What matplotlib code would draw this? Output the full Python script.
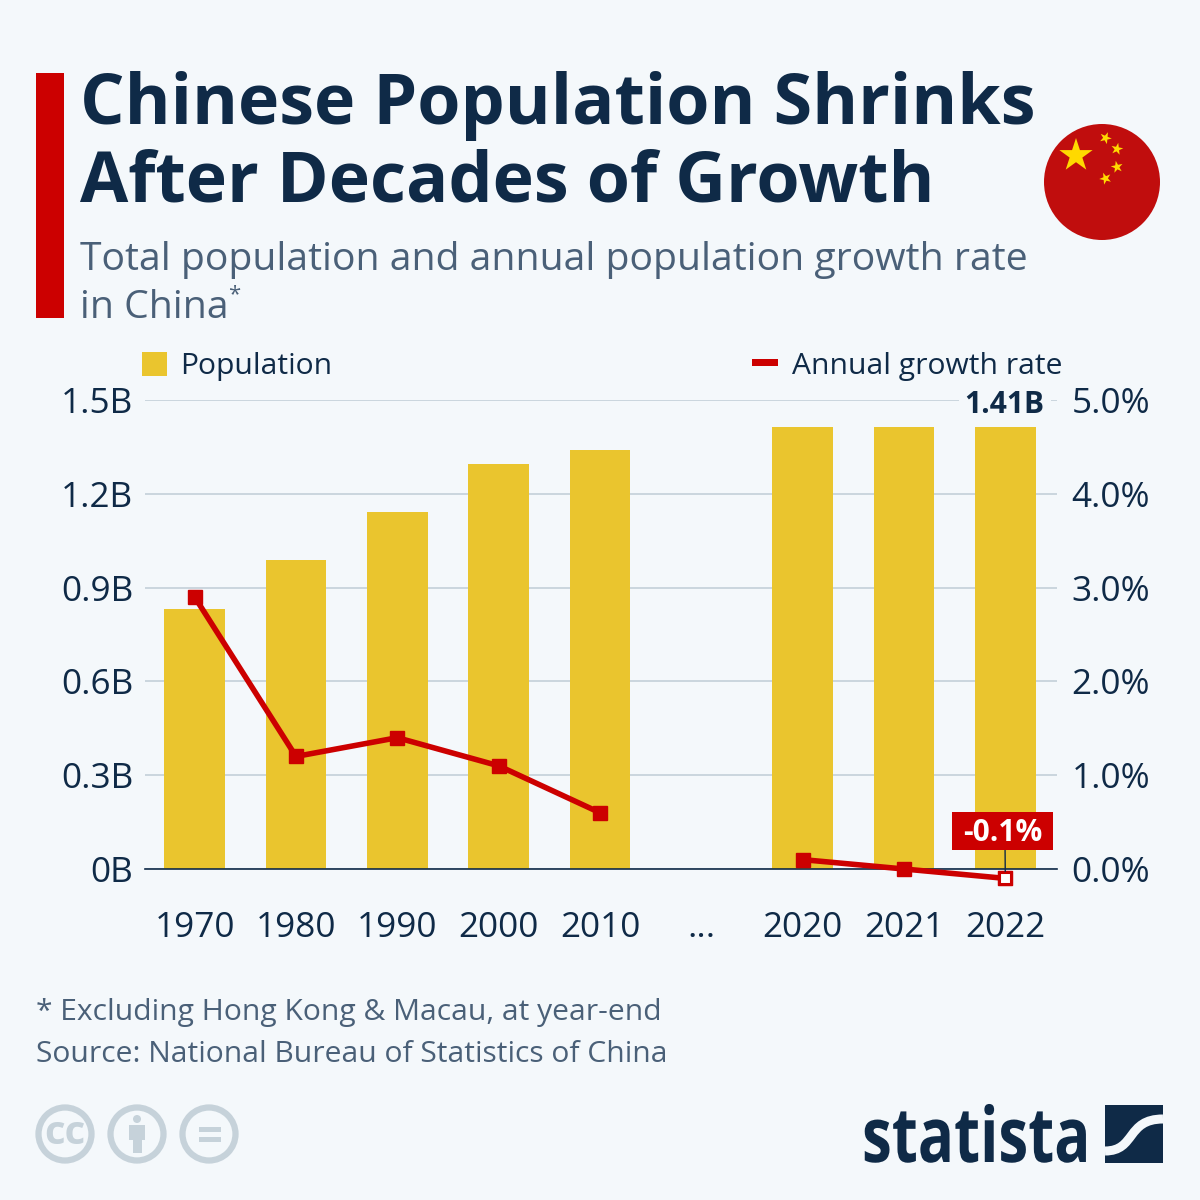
import numpy as np
import matplotlib
matplotlib.use("Agg")
import matplotlib.pyplot as plt
from matplotlib.patches import Rectangle, Circle, PathPatch, Polygon
from matplotlib.path import Path
from matplotlib.patheffects import AbstractPathEffect
from matplotlib.transforms import Affine2D

# Data
years = ["1970", "1980", "1990", "2000", "2010", "...", "2020", "2021", "2022"]
population = [0.83, 0.987, 1.143, 1.295, 1.34, np.nan, 1.413, 1.414, 1.413]
growth = [2.9, 1.2, 1.4, 1.1, 0.6, np.nan, 0.1, 0.0, -0.1]
pop_ticks = [0, 0.3, 0.6, 0.9, 1.2, 1.5]
pop_tick_labels = ["0B", "0.3B", "0.6B", "0.9B", "1.2B", "1.5B"]
growth_ticks = [0, 1, 2, 3, 4, 5]
growth_tick_labels = ["0.0%", "1.0%", "2.0%", "3.0%", "4.0%", "5.0%"]

BG = "#f4f8fb"
NAVY = "#0f2a47"
SLATE = "#4a6078"
RED = "#cc0000"
YELLOW = "#eac52e"
GRID = "#bfccd6"
ICON = "#c6d2da"

plt.rcParams["font.family"] = ["Open Sans", "DejaVu Sans"]


class Squeeze(AbstractPathEffect):
    # narrows a text horizontally, there is no condensed font installed for the logo
    def __init__(self, sx):
        super().__init__()
        self.sx = sx

    def draw_path(self, renderer, gc, tpath, affine, rgbFace=None):
        renderer.draw_path(gc, tpath, Affine2D().scale(self.sx, 1) + affine, rgbFace)


def star(cx, cy, r, rot=0.0):
    # five pointed star, y axis of the overlay points down
    angles = -np.pi / 2 + rot + np.arange(10) * np.pi / 5
    radii = np.where(np.arange(10) % 2 == 0, r, r * 0.382)
    return Polygon(np.column_stack([cx + radii * np.cos(angles), cy + radii * np.sin(angles)]),
                   color="#ffd900", lw=0)


def callout_box(x0, y0, w, h, mutation_size):
    # label box with its own padding: 11 px sideways, 38 px tall, sits 2 px above the text centre
    yc = y0 + h / 2 + 2
    return Path([(x0 - 11, yc - 19), (x0 + w + 11, yc - 19), (x0 + w + 11, yc + 19),
                 (x0 - 11, yc + 19), (x0 - 11, yc - 19)], closed=True)


fig = plt.figure(figsize=(12, 12), dpi=100, facecolor=BG)

# Overlay in pixel coordinates for title, legend, flag and logos
deco = fig.add_axes([0, 0, 1, 1], zorder=0)
deco.set_xlim(0, 1200)
deco.set_ylim(1200, 0)
deco.axis("off")

deco.add_patch(Rectangle((36, 73), 28, 245, color=RED, lw=0))
deco.text(80, 124, "Chinese Population Shrinks", fontsize=50.4, fontweight="bold", color=NAVY)
deco.text(80, 202, "After Decades of Growth", fontsize=50.4, fontweight="bold", color=NAVY)
deco.text(80, 270, "Total population and annual population growth rate", fontsize=28.2, color=SLATE)
deco.text(80, 318, "in China", fontsize=28.2, color=SLATE)
deco.text(228, 300, "*", fontsize=16, color=SLATE)

# Flag
deco.add_patch(Circle((1102, 182), 58, color="#c00d0d", lw=0))
deco.add_patch(star(1076, 155.5, 17.5))
for sx, sy, rot in [(1105.5, 138, 0.4), (1117, 149, 0.2), (1117, 167, -0.2), (1105.5, 178.5, -0.4)]:
    deco.add_patch(star(sx, sy, 6.3, rot))

# Legend
deco.add_patch(Rectangle((142, 352), 25, 24, color=YELLOW, lw=0))
deco.text(180.5, 374, "Population", fontsize=21.6, color=NAVY)
deco.add_patch(Rectangle((752, 359), 26, 7, color=RED, lw=0))
deco.text(792, 374, "Annual growth rate", fontsize=21.6, color=NAVY)

# Footer
deco.text(36, 1020, "* Excluding Hong Kong & Macau, at year-end", fontsize=21.65, color=SLATE)
deco.text(36, 1062, "Source: National Bureau of Statistics of China", fontsize=21.65, color=SLATE)

# Licence icons
for cx in [65, 137, 209]:
    deco.add_patch(Circle((cx, 1134), 26.5, fill=False, ec=ICON, lw=4.5))
deco.text(65, 1134, "cc", fontsize=29, fontweight="bold", color=ICON, ha="center", va="center")
deco.add_patch(Circle((137, 1119), 4, color=ICON, lw=0))
deco.add_patch(Polygon([(129, 1125), (145, 1125), (145, 1140), (141.5, 1140), (141.5, 1153),
                        (132.5, 1153), (132.5, 1140), (129, 1140)], color=ICON, lw=0))
deco.add_patch(Rectangle((199, 1127), 22, 5, color=ICON, lw=0))
deco.add_patch(Rectangle((199, 1137), 22, 5, color=ICON, lw=0))

# Statista logo
deco.text(862, 1162, "statista", fontsize=55, fontweight="bold", color=NAVY,
          path_effects=[Squeeze(0.785)])
deco.add_patch(Rectangle((1105, 1105), 58, 58, color=NAVY, lw=0))
s_curve = Path([(1105, 1151), (1136, 1151), (1126, 1119), (1163, 1119)],
               [Path.MOVETO, Path.CURVE4, Path.CURVE4, Path.CURVE4])
deco.add_patch(PathPatch(s_curve, fill=False, ec=BG, lw=6.5, capstyle="butt"))

# Main chart
ax = fig.add_axes([145 / 1200, 1 - 869 / 1200, 912 / 1200, 469 / 1200], zorder=1)
ax.patch.set_alpha(0)
x = np.arange(len(years))
ax.bar(x, population, width=0.6, color=YELLOW, zorder=3)
ax.set_xlim(-0.49, 8.51)
ax.set_ylim(0, 1.5)
ax.set_yticks(pop_ticks)
ax.set_yticklabels(pop_tick_labels)
ax.set_xticks(x)
ax.set_xticklabels(years)
ax.grid(axis="y", color=GRID, lw=1.1, zorder=1)
ax.set_axisbelow(True)
ax.tick_params(axis="y", length=0, pad=8.5, labelsize=25.3, labelcolor=NAVY)
ax.tick_params(axis="x", length=0, pad=30, labelsize=25.3, labelcolor=NAVY)
for sp in ax.spines.values():
    sp.set_visible(False)
ax.annotate("1.41B", (8, population[8]), xytext=(-0.5, 5), textcoords="offset points",
            ha="center", va="bottom", fontsize=21.5, fontweight="bold", color=NAVY, zorder=4,
            bbox=dict(boxstyle="square,pad=0.2", fc=BG, ec="none"))

# Growth rate line on the second axis
ax2 = ax.twinx()
ax2.set_zorder(2)
ax2.patch.set_alpha(0)
ax2.set_ylim(0, 5)
ax2.set_yticks(growth_ticks)
ax2.set_yticklabels(growth_tick_labels)
ax2.tick_params(axis="y", length=0, pad=10.5, labelsize=25.3, labelcolor=NAVY)
for sp in ax2.spines.values():
    sp.set_visible(False)
ax2.axhline(0, color=NAVY, lw=1.2, zorder=4, clip_on=False)
ax2.plot(x, growth, color=RED, lw=4, marker="s", ms=9.5, zorder=6, clip_on=False)
ax2.plot(x[8], growth[8], marker="s", ms=8, mfc="white", mec=RED, mew=2.2, zorder=7, clip_on=False)

# -0.1% callout
ax2.annotate("-0.1%", (8, growth[8]), xytext=(-2, 32.5), textcoords="offset points",
             ha="center", va="center", fontsize=21.5, fontweight="bold", color="white", zorder=8,
             annotation_clip=False,
             bbox=dict(boxstyle=callout_box, fc=RED, ec="none"),
             arrowprops=dict(arrowstyle="-", color=NAVY, lw=1, shrinkA=0, shrinkB=5,
                             relpos=(0.53, 0.5)))

fig.savefig("out.png", dpi=100, facecolor=BG)
